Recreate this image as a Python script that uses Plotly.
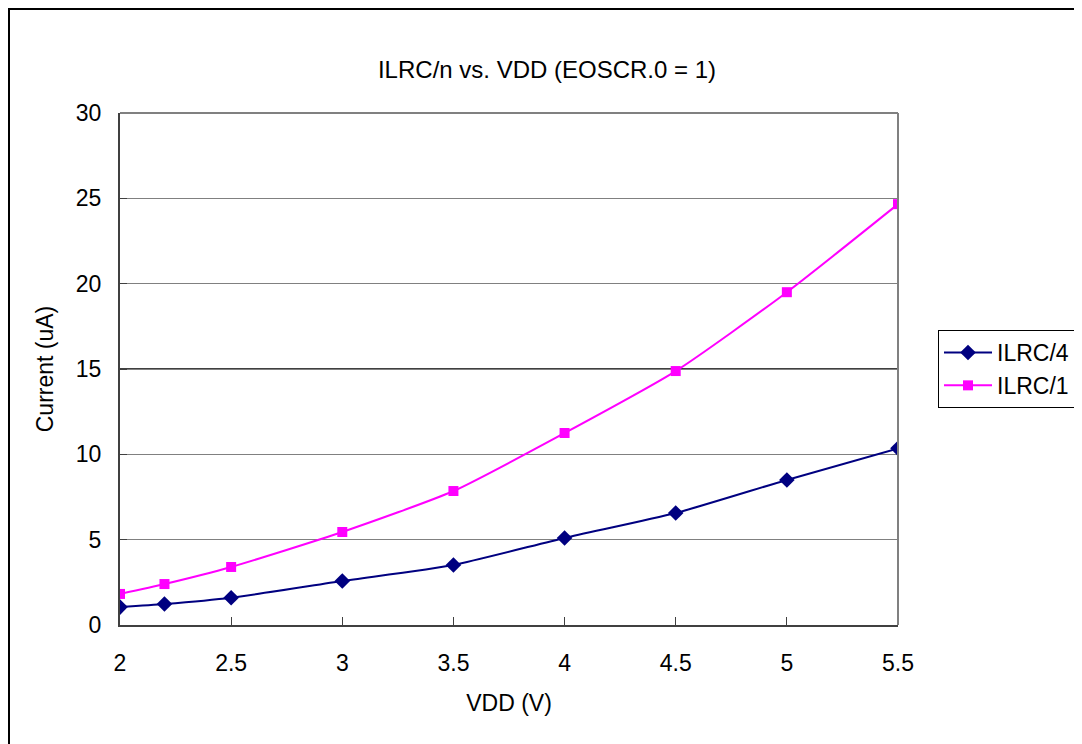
import plotly.graph_objects as go

vdd = [2.0, 2.2, 2.5, 3.0, 3.5, 4.0, 4.5, 5.0, 5.5]
ilrc4 = [1.05, 1.23, 1.6, 2.58, 3.52, 5.1, 6.56, 8.5, 10.35]
ilrc1 = [1.82, 2.4, 3.4, 5.45, 7.85, 11.25, 14.88, 19.5, 24.66]

x_ticks = [2, 2.5, 3, 3.5, 4, 4.5, 5, 5.5]
y_ticks = [0, 5, 10, 15, 20, 25, 30]

FONT = "Liberation Sans, Arial, sans-serif"

# page is drawn with an 8px body offset; margins compensate
L, T = 112, 105
PW, PH = 778, 512
W, H = 1082, 744

fig = go.Figure()
fig.add_trace(go.Scatter(
    x=vdd, y=ilrc4, name="ILRC/4", mode="lines+markers",
    line=dict(color="#000080", width=2, shape="spline", smoothing=0.6),
    marker=dict(symbol="diamond", size=12, color="#000080"),
))
fig.add_trace(go.Scatter(
    x=vdd, y=ilrc1, name="ILRC/1", mode="lines+markers",
    line=dict(color="#FF00FF", width=2, shape="spline", smoothing=0.6),
    marker=dict(symbol="square", size=10, color="#FF00FF"),
))

fig.update_layout(
    width=W, height=H,
    margin=dict(l=L, r=W - L - PW, t=T, b=H - T - PH),
    paper_bgcolor="white", plot_bgcolor="white",
    font=dict(family=FONT, size=23, color="black"),
    title=dict(text="ILRC/n vs. VDD (EOSCR.0 = 1)", x=539 / W, xanchor="center",
               xref="container", y=1 - 62 / H, yanchor="middle",
               font=dict(family=FONT, size=24, color="black")),
    showlegend=True,
    legend=dict(x=(930 - L) / PW, y=(T + PH - 322) / PH, xanchor="left", yanchor="top",
                bordercolor="black", borderwidth=1, bgcolor="white",
                font=dict(family=FONT, size=23), tracegroupgap=0, itemwidth=48),
    xaxis=dict(range=[2, 5.5], tickvals=x_ticks, ticktext=[str(v) for v in x_ticks],
               showgrid=False, zeroline=False, showline=True, linecolor="#404040",
               linewidth=2, ticks="inside", ticklen=8, tickcolor="#404040",
               tickfont=dict(size=23), automargin=False, ticklabelstandoff=16,
               title=dict(text="VDD (V)", font=dict(size=23), standoff=20)),
    yaxis=dict(range=[0, 30], tickvals=y_ticks, showgrid=True, gridcolor="#808080",
               gridwidth=1, zeroline=False, showline=True, linecolor="#404040",
               linewidth=2, ticks="inside", ticklen=7, tickcolor="#404040",
               tickfont=dict(size=23), automargin=False, ticklabelstandoff=12,
               title=dict(text="Current (uA)", font=dict(size=23), standoff=16)),
    shapes=[
        dict(type="line", xref="paper", yref="y", x0=0, x1=1, y0=15, y1=15,
             line=dict(color="black", width=1.5), layer="below"),
        dict(type="line", xref="paper", yref="paper", x0=0, x1=1, y0=1, y1=1,
             line=dict(color="#808080", width=2)),
        dict(type="line", xref="paper", yref="paper", x0=1, x1=1, y0=0, y1=1,
             line=dict(color="#808080", width=2)),
        dict(type="line", xref="paper", yref="paper",
             x0=(1 - L) / PW, x1=(1 - L) / PW, y0=-(H - T - PH) / PH, y1=(T + 10) / PH + 1,
             line=dict(color="black", width=2)),
        dict(type="line", xref="paper", yref="paper",
             x0=(1 - L) / PW, x1=(W - L) / PW, y0=(T - 1) / PH + 1, y1=(T - 1) / PH + 1,
             line=dict(color="black", width=2)),
    ],
)

fig.write_html("out.html")
